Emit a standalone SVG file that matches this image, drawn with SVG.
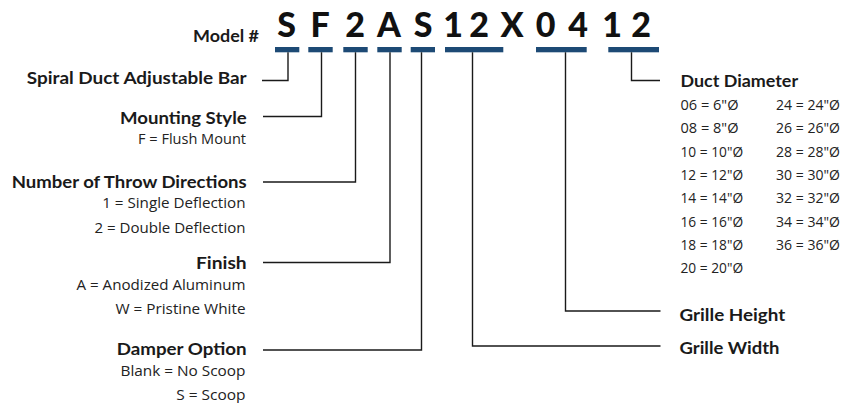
<svg xmlns="http://www.w3.org/2000/svg" width="843" height="403" viewBox="0 0 843 403">
<style>
.h{font-family:Lato,"Open Sans","Liberation Sans",sans-serif;font-weight:700;font-size:17.5px;fill:#1a1a1a}
.s{font-family:"Open Sans","Noto Sans","Liberation Sans",sans-serif;font-size:14.8px;fill:#222}
.c{font-family:Lato,"Open Sans","Liberation Sans",sans-serif;font-weight:900;font-size:34px;fill:#111;text-anchor:middle}
.e{text-anchor:end}
.bar{fill:#1d4a75}
.ln{fill:none;stroke:#1a1a1a;stroke-width:1.4}
</style>
<rect width="843" height="403" fill="#fff"/>
<g id="model">
<text class="h e" x="259" y="42" font-size="18" textLength="66" lengthAdjust="spacingAndGlyphs">Model #</text>
<text class="c" x="286.5" y="37">S</text>
<text class="c" x="320" y="37">F</text>
<text class="c" x="355" y="37">2</text>
<text class="c" x="389" y="37">A</text>
<text class="c" x="423" y="37">S</text>
<text class="c" x="453" y="37">1</text>
<text class="c" x="479" y="37">2</text>
<text class="c" x="512" y="37">X</text>
<text class="c" x="545.5" y="37">0</text>
<text class="c" x="578" y="37">4</text>
<text class="c" x="612" y="37">1</text>
<text class="c" x="641" y="37">2</text>
<rect class="bar" x="275" y="47" width="24.3" height="5.3"/>
<rect class="bar" x="308.3" y="47" width="24.4" height="5.3"/>
<rect class="bar" x="343.3" y="47" width="24.4" height="5.3"/>
<rect class="bar" x="377.3" y="47" width="24.4" height="5.3"/>
<rect class="bar" x="410.7" y="47" width="24.3" height="5.3"/>
<rect class="bar" x="445" y="47" width="58.3" height="5.3"/>
<rect class="bar" x="536" y="47" width="50.7" height="5.3"/>
<rect class="bar" x="608.3" y="47" width="50.7" height="5.3"/>
</g>
<g id="connectors">
<path class="ln" d="M288,52.3 V80.5 H262"/>
<path class="ln" d="M321.5,52.3 V116.5 H263"/>
<path class="ln" d="M355.5,52.3 V182 H263"/>
<path class="ln" d="M390,52.3 V262.5 H263"/>
<path class="ln" d="M421.5,52.3 V350 H263"/>
<path class="ln" d="M472.5,52.3 V346 H660.5"/>
<path class="ln" d="M565.5,52.3 V311 H660.5"/>
<path class="ln" d="M631.5,52.3 V80.5 H660"/>
</g>
<g id="spiral">
<text class="h e" x="246.7" y="84" textLength="220" lengthAdjust="spacingAndGlyphs">Spiral Duct Adjustable Bar</text>
</g>
<g id="mounting">
<text class="h e" x="246.7" y="124" textLength="126.7" lengthAdjust="spacingAndGlyphs">Mounting Style</text>
<text class="s e" x="246" y="144" textLength="108" lengthAdjust="spacingAndGlyphs">F = Flush Mount</text>
</g>
<g id="throw">
<text class="h e" x="246.7" y="187.5" textLength="235" lengthAdjust="spacingAndGlyphs">Number of Throw Directions</text>
<text class="s e" x="245.5" y="208" textLength="143.3" lengthAdjust="spacingAndGlyphs">1 = Single Deflection</text>
<text class="s e" x="245.5" y="232.5" textLength="151" lengthAdjust="spacingAndGlyphs">2 = Double Deflection</text>
</g>
<g id="finish">
<text class="h e" x="246.7" y="269" textLength="50.7" lengthAdjust="spacingAndGlyphs">Finish</text>
<text class="s e" x="245.5" y="290" textLength="169" lengthAdjust="spacingAndGlyphs">A = Anodized Aluminum</text>
<text class="s e" x="245.5" y="314" textLength="130" lengthAdjust="spacingAndGlyphs">W = Pristine White</text>
</g>
<g id="damper">
<text class="h e" x="246.7" y="355" textLength="130" lengthAdjust="spacingAndGlyphs">Damper Option</text>
<text class="s e" x="245.5" y="376" textLength="125" lengthAdjust="spacingAndGlyphs">Blank = No Scoop</text>
<text class="s e" x="245.5" y="399.5" textLength="69.3" lengthAdjust="spacingAndGlyphs">S = Scoop</text>
</g>
<g id="diameter">
<text class="h" x="680.5" y="86.5" textLength="117.6" lengthAdjust="spacingAndGlyphs">Duct Diameter</text>
<text class="s" x="680.5" y="110" textLength="58" lengthAdjust="spacingAndGlyphs">06 = 6"Ø</text>
<text class="s" x="680.5" y="133.3" textLength="58" lengthAdjust="spacingAndGlyphs">08 = 8"Ø</text>
<text class="s" x="680.5" y="156.6" textLength="62.6" lengthAdjust="spacingAndGlyphs">10 = 10"Ø</text>
<text class="s" x="680.5" y="179.9" textLength="62.6" lengthAdjust="spacingAndGlyphs">12 = 12"Ø</text>
<text class="s" x="680.5" y="203.2" textLength="62.6" lengthAdjust="spacingAndGlyphs">14 = 14"Ø</text>
<text class="s" x="680.5" y="226.5" textLength="62.6" lengthAdjust="spacingAndGlyphs">16 = 16"Ø</text>
<text class="s" x="680.5" y="249.8" textLength="62.6" lengthAdjust="spacingAndGlyphs">18 = 18"Ø</text>
<text class="s" x="680.5" y="273.1" textLength="62.6" lengthAdjust="spacingAndGlyphs">20 = 20"Ø</text>
<text class="s" x="776" y="110" textLength="64" lengthAdjust="spacingAndGlyphs">24 = 24"Ø</text>
<text class="s" x="776" y="133.3" textLength="64" lengthAdjust="spacingAndGlyphs">26 = 26"Ø</text>
<text class="s" x="776" y="156.6" textLength="64" lengthAdjust="spacingAndGlyphs">28 = 28"Ø</text>
<text class="s" x="776" y="179.9" textLength="64" lengthAdjust="spacingAndGlyphs">30 = 30"Ø</text>
<text class="s" x="776" y="203.2" textLength="64" lengthAdjust="spacingAndGlyphs">32 = 32"Ø</text>
<text class="s" x="776" y="226.5" textLength="64" lengthAdjust="spacingAndGlyphs">34 = 34"Ø</text>
<text class="s" x="776" y="249.8" textLength="64" lengthAdjust="spacingAndGlyphs">36 = 36"Ø</text>
</g>
<g id="height">
<text class="h" x="679.5" y="321" textLength="105.7" lengthAdjust="spacingAndGlyphs">Grille Height</text>
</g>
<g id="width">
<text class="h" x="679.5" y="353.5" textLength="100" lengthAdjust="spacingAndGlyphs">Grille Width</text>
</g>
</svg>
